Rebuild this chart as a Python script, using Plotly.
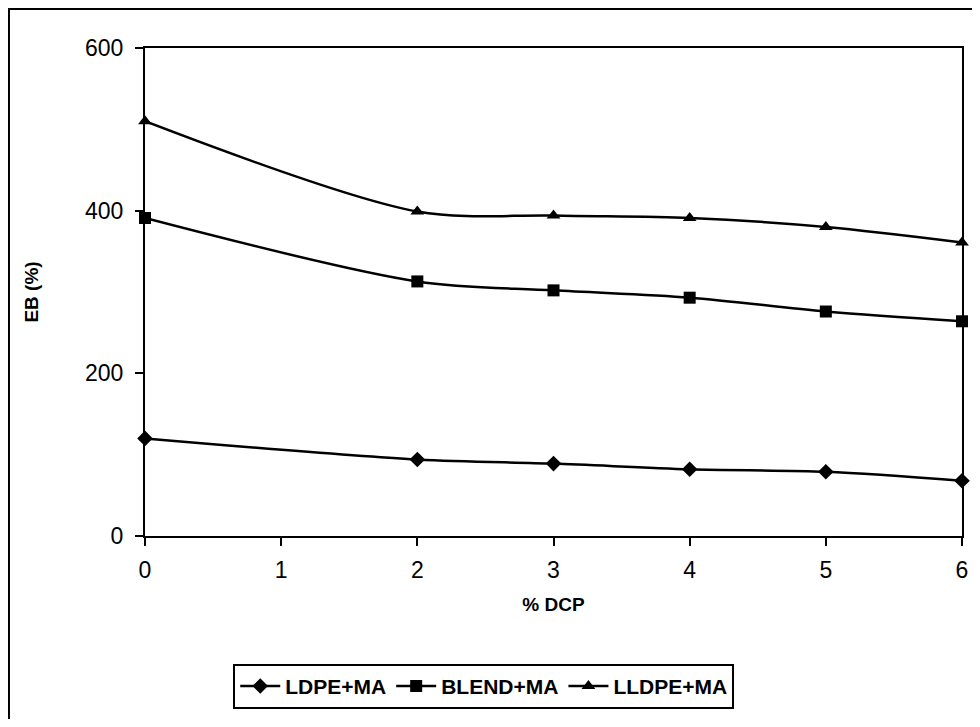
import plotly.graph_objects as go

dcp = [0, 2, 3, 4, 5, 6]

ldpe_ma = [120, 94, 89, 82, 79, 68]
blend_ma = [391, 313, 302, 293, 276, 264]
lldpe_ma = [510, 399, 394, 391, 380, 361]

series = [
    ("LDPE+MA", ldpe_ma, "diamond"),
    ("BLEND+MA", blend_ma, "square"),
    ("LLDPE+MA", lldpe_ma, "triangle-up"),
]

fig = go.Figure()
for name, vals, sym in series:
    fig.add_trace(go.Scatter(
        x=dcp, y=vals, name="<b>" + name + "</b>", mode="lines+markers",
        line=dict(color="black", width=2.5, shape="spline", smoothing=0.9),
        marker=dict(symbol=sym, size=12, color="black"),
        cliponaxis=False,
    ))

axis_common = dict(
    showline=True, linecolor="black", linewidth=2, mirror=True,
    showgrid=False, zeroline=False, ticks="outside", ticklen=8,
    tickcolor="black", tickwidth=2, automargin=False,
    tickfont=dict(family="Arial", size=23, color="black"),
)

fig.update_xaxes(range=[0, 6], dtick=1, ticklabelstandoff=4, **axis_common,
                 title=dict(text="<b>% DCP</b>", font=dict(family="Arial", size=19, color="black"), standoff=16))
fig.update_yaxes(range=[0, 600], dtick=200, ticklabelstandoff=7, **axis_common,
                 title=dict(text="<b>EB (%)</b>", font=dict(family="Arial", size=19, color="black"), standoff=41))

# the page body adds an 8px offset, so the figure is sized to fit inside it
fig.update_layout(
    width=964, height=711,
    margin=dict(l=137, r=10, t=40, b=178),
    paper_bgcolor="white", plot_bgcolor="white",
    showlegend=True,
    legend=dict(
        orientation="h", x=0.108, y=-0.262, xanchor="left", yanchor="top",
        bordercolor="black", borderwidth=2,
        font=dict(family="Arial", size=21, color="black"),
        itemwidth=40, tracegroupgap=0,
    ),
    shapes=[dict(type="rect", xref="paper", yref="paper",
                 x0=-0.1665, x1=1.2, y0=-0.6, y1=1.080,
                 line=dict(color="black", width=2))],
)

fig.write_html("out.html")
